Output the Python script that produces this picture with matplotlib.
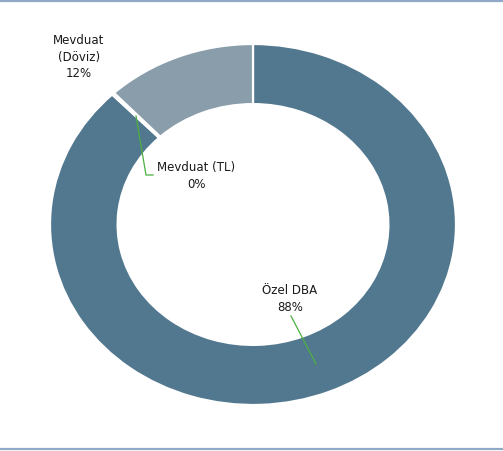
import matplotlib
matplotlib.use("Agg")
import matplotlib.pyplot as plt
from matplotlib.lines import Line2D

labels = ["Özel DBA", "Mevduat (TL)", "Mevduat (Döviz)"]
shares = [87.8, 0.2, 12.0]
pct_text = ["88%", "0%", "12%"]
colors = ["#52788f", "#52788f", "#8a9dab"]

W, H = 503, 452
fig = plt.figure(figsize=(W / 100, H / 100), dpi=100)
ax = fig.add_axes([0, 0, 1, 1])

ax.pie(shares, colors=colors, startangle=90, counterclock=False,
       radius=1.0,
       wedgeprops=dict(width=0.333, edgecolor="white", linewidth=1.6))

# stretch the ring horizontally to fill the panel
cx, cy = 253, 225.5
sx, sy = 203.0, 180.5
ax.set_aspect("auto")
ax.set_xlim(-cx / sx, (W - cx) / sx)
ax.set_ylim(-(H - cy) / sy, cy / sy)
ax.axis("off")


def px(x, y):
    return ((x - cx) / sx, (cy - y) / sy)


txt = dict(ha="center", va="center", fontsize=8.5, color="#1a1a1a",
           family="DejaVu Sans", linespacing=1.35)
ax.text(*px(79, 57), "Mevduat\n(Döviz)\n" + pct_text[2], **txt)
ax.text(*px(196, 176), labels[1] + "\n" + pct_text[1], **txt)
ax.text(*px(290, 299), labels[0] + "\n" + pct_text[0], **txt)

green = "#4cb040"
p = [px(136, 117), px(146, 176), px(153, 176)]
ax.plot([q[0] for q in p], [q[1] for q in p], color=green, lw=0.9)
p = [px(291, 317), px(316, 365)]
ax.plot([q[0] for q in p], [q[1] for q in p], color=green, lw=0.9)

# panel rules at top and bottom
for yy in (1.5, 449.5):
    fig.add_artist(Line2D([0, 1], [1 - yy / H, 1 - yy / H],
                          transform=fig.transFigure, color="#8fa9c6", lw=1.6))

fig.savefig("out.png", dpi=100)
